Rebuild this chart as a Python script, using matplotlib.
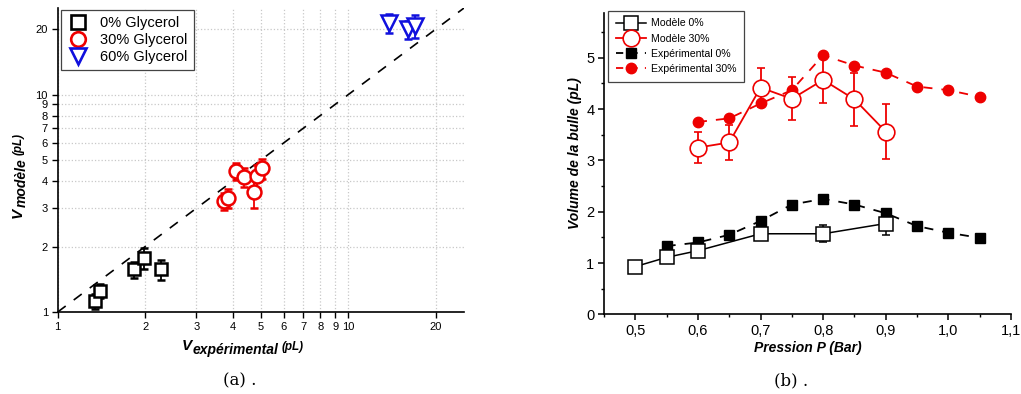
import matplotlib
matplotlib.use('Agg')
import matplotlib.pyplot as plt
from matplotlib.lines import Line2D
from matplotlib.ticker import FixedLocator, FixedFormatter, NullLocator, MultipleLocator, FuncFormatter

plt.rcParams['font.family'] = ['Liberation Sans', 'DejaVu Sans']

# ---------------- Panel (a) data ----------------
exp0_a = [1.34, 1.40, 1.83, 2.27, 1.98]
mod0_a = [1.12, 1.25, 1.57, 1.57, 1.77]
err0_a = [0.09, 0.09, 0.13, 0.17, 0.20]
exp30_a = [3.73, 3.85, 4.10, 4.39, 4.74, 4.84, 5.05]
mod30_a = [3.23, 3.35, 4.44, 4.17, 3.55, 4.21, 4.57]
err30_a = [0.30, 0.34, 0.38, 0.42, 0.54, 0.51, 0.47]
exp60_a = [13.8, 16.0, 16.9]
mod60_a = [21.3, 20.0, 20.7]
err60_a = [2.2, 1.9, 2.5]
log_ticks = [1, 2, 3, 4, 5, 6, 7, 8, 9, 10, 20]
log_labels = ['1', '2', '3', '4', '5', '6', '7', '8', '9', '10', '20']

# ---------------- Panel (b) data ----------------
P_mod0 = [0.50, 0.55, 0.60, 0.70, 0.80, 0.90]
mod0 = [0.93, 1.11, 1.24, 1.57, 1.57, 1.77]
err_mod0 = [0.08, 0.10, 0.05, 0.12, 0.17, 0.22]
P_mod30 = [0.60, 0.65, 0.70, 0.75, 0.80, 0.85, 0.90]
mod30 = [3.25, 3.35, 4.42, 4.20, 4.57, 4.19, 3.56]
err_mod30 = [0.30, 0.34, 0.38, 0.42, 0.46, 0.51, 0.54]
P_exp0 = [0.55, 0.60, 0.65, 0.70, 0.75, 0.80, 0.85, 0.90, 0.95, 1.00, 1.05]
exp0 = [1.33, 1.40, 1.55, 1.82, 2.14, 2.25, 2.14, 1.97, 1.72, 1.59, 1.49]
P_exp30 = [0.60, 0.65, 0.70, 0.75, 0.80, 0.85, 0.90, 0.95, 1.00, 1.05]
exp30 = [3.75, 3.82, 4.11, 4.37, 5.05, 4.85, 4.71, 4.44, 4.37, 4.24]

W, H = 1021, 394
fig = plt.figure(figsize=(W / 100, H / 100), dpi=100)

# ================= Panel (a) =================
axa = fig.add_axes([0.0565, 0.2081, 0.398, 0.7716])
axa.set_xscale('log')
axa.set_yscale('log')
axa.set_xlim(1, 25)
axa.set_ylim(1, 25)
axa.plot([1, 25], [1, 25], color='black', ls=(0, (6, 6)), lw=1.2, zorder=2)

kw = dict(ls='none', mfc='white', mew=1.8, capsize=3, elinewidth=1.3, capthick=1.3, zorder=3)
axa.errorbar(exp0_a, mod0_a, yerr=err0_a, marker='s', ms=9, color='black', **kw)
axa.errorbar(exp30_a, mod30_a, yerr=err30_a, marker='o', ms=10, color='#ee0000', **kw)
axa.errorbar(exp60_a, mod60_a, yerr=err60_a, marker='v', ms=11, color='#1010dd', **kw)

for ax_ in (axa.xaxis, axa.yaxis):
    ax_.set_major_locator(FixedLocator(log_ticks))
    ax_.set_major_formatter(FixedFormatter(log_labels))
    ax_.set_minor_locator(NullLocator())
axa.grid(True, which='major', color='#c8c8c8', ls=':', lw=0.9)
axa.tick_params(direction='out', length=4, width=1, labelsize=8, pad=3)
for s in ('top', 'right'):
    axa.spines[s].set_visible(False)
for s in ('left', 'bottom'):
    axa.spines[s].set_linewidth(1.2)
axa.set_axisbelow(True)

handles_a = [
    Line2D([], [], ls='none', marker='s', ms=9.5, mfc='white', mec='black', mew=1.9),
    Line2D([], [], ls='none', marker='o', ms=10.5, mfc='white', mec='#ee0000', mew=1.9),
    Line2D([], [], ls='none', marker='v', ms=11.5, mfc='white', mec='#1010dd', mew=1.9),
]
leg = axa.legend(handles_a, ['0% Glycerol', '30% Glycerol', '60% Glycerol'],
                 loc='upper left', bbox_to_anchor=(0.008, 0.993), fontsize=10.5,
                 fancybox=False, edgecolor='#444444', framealpha=1, borderaxespad=0,
                 handletextpad=0.7, borderpad=0.4, labelspacing=0.22, handlelength=1.6)
leg.get_frame().set_linewidth(0.9)

# composite axis labels (V, subscript, (pL))
lab = dict(fontweight='bold', fontstyle='italic', color='black')
xv = fig.text(181.5 / W, 1 - 350 / H, 'V', fontsize=11, ha='left', va='baseline', **lab)
xs = axa.annotate('expérimental', xy=(1, 0), xycoords=xv, xytext=(0.5, -0.8),
                  textcoords='offset points', fontsize=10, ha='left', va='baseline',
                  annotation_clip=False, **lab)
xp = axa.annotate('(pL)', xy=(1, 0), xycoords=xs, xytext=(2.2, 4.8),
                  textcoords='offset points', fontsize=8.5, ha='left', va='baseline',
                  annotation_clip=False, **lab)

yv = fig.text(21.7 / W, 1 - 218 / H, 'V', fontsize=11, rotation=90, rotation_mode='anchor',
              ha='left', va='baseline', **lab)
ys = axa.annotate('modèle', xy=(1, 1), xycoords=yv, xytext=(0.8, 0.5),
                  textcoords='offset points', fontsize=10, rotation=90, rotation_mode='anchor',
                  ha='left', va='baseline', annotation_clip=False, **lab)
yp = axa.annotate('(pL)', xy=(1, 1), xycoords=ys, xytext=(-5.0, 2.2),
                  textcoords='offset points', fontsize=8.5, rotation=90, rotation_mode='anchor',
                  ha='left', va='baseline', annotation_clip=False, **lab)

# ================= Panel (b) =================
axb = fig.add_axes([0.5916, 0.2023, 0.3986, 0.7655])
axb.set_xlim(0.45, 1.1)
axb.set_ylim(0, 5.88)

red = '#ee0000'
axb.errorbar(P_mod0, mod0, yerr=err_mod0, color='black', ls='-', lw=1.1, marker='s', ms=10,
             mfc='white', mew=1.1, capsize=3, elinewidth=1.1, capthick=1.1, zorder=4)
axb.errorbar(P_mod30, mod30, yerr=err_mod30, color=red, ls='-', lw=1.3, marker='o', ms=12,
             mfc='white', mew=1.2, capsize=3, elinewidth=1.3, capthick=1.3, zorder=4)
axb.plot(P_exp0, exp0, color='black', ls=(0, (5, 5)), lw=1.3, marker='s', ms=6.5, zorder=3)
axb.plot(P_exp30, exp30, color=red, ls=(0, (5, 5)), lw=1.3, marker='o', ms=7.5, zorder=3)

axb.xaxis.set_major_locator(MultipleLocator(0.1))
axb.xaxis.set_minor_locator(MultipleLocator(0.05))
axb.yaxis.set_major_locator(MultipleLocator(1))
axb.yaxis.set_minor_locator(MultipleLocator(0.5))
axb.xaxis.set_major_formatter(FuncFormatter(lambda v, p: f'{v:.1f}'.replace('.', ',')))
axb.yaxis.set_major_formatter(FuncFormatter(lambda v, p: f'{v:.0f}'))
axb.tick_params(which='major', direction='out', length=4, width=1.1, labelsize=10.5, pad=3)
axb.tick_params(which='minor', direction='out', length=2.5, width=1.0)
for s in ('top', 'right'):
    axb.spines[s].set_visible(False)
for s in ('left', 'bottom'):
    axb.spines[s].set_linewidth(1.2)

handles_b = [
    Line2D([], [], color='black', lw=1.1, marker='s', ms=10, mfc='white', mew=1.1),
    Line2D([], [], color=red, lw=1.3, marker='o', ms=12, mfc='white', mew=1.2),
    Line2D([], [], color='black', ls=(0, (4, 4)), lw=1.3, marker='s', ms=6.5),
    Line2D([], [], color=red, ls=(0, (4, 4)), lw=1.3, marker='o', ms=7.5),
]
legb = axb.legend(handles_b, ['Modèle 0%', 'Modèle 30%', 'Expérimental 0%', 'Expérimental 30%'],
                  loc='upper left', bbox_to_anchor=(0.01, 1.007), fontsize=7.6,
                  fancybox=False, edgecolor='#444444', framealpha=1, borderaxespad=0,
                  handlelength=2.8, handletextpad=0.5, borderpad=0.75, labelspacing=0.48)
legb.get_frame().set_linewidth(0.9)

axb.set_xlabel('Pression P (Bar)', fontsize=10, fontweight='bold', fontstyle='italic', labelpad=2)
axb.set_ylabel('Volume de la bulle (pL)', fontsize=10, fontweight='bold', fontstyle='italic')
axb.yaxis.set_label_coords(-0.055, 0.535)

# captions
fig.text(0.235, 0.012, '(a) .', ha='center', va='bottom', fontsize=12, family='DejaVu Serif')
fig.text(0.775, 0.012, '(b) .', ha='center', va='bottom', fontsize=12, family='DejaVu Serif')

fig.savefig('out.png', dpi=100)
